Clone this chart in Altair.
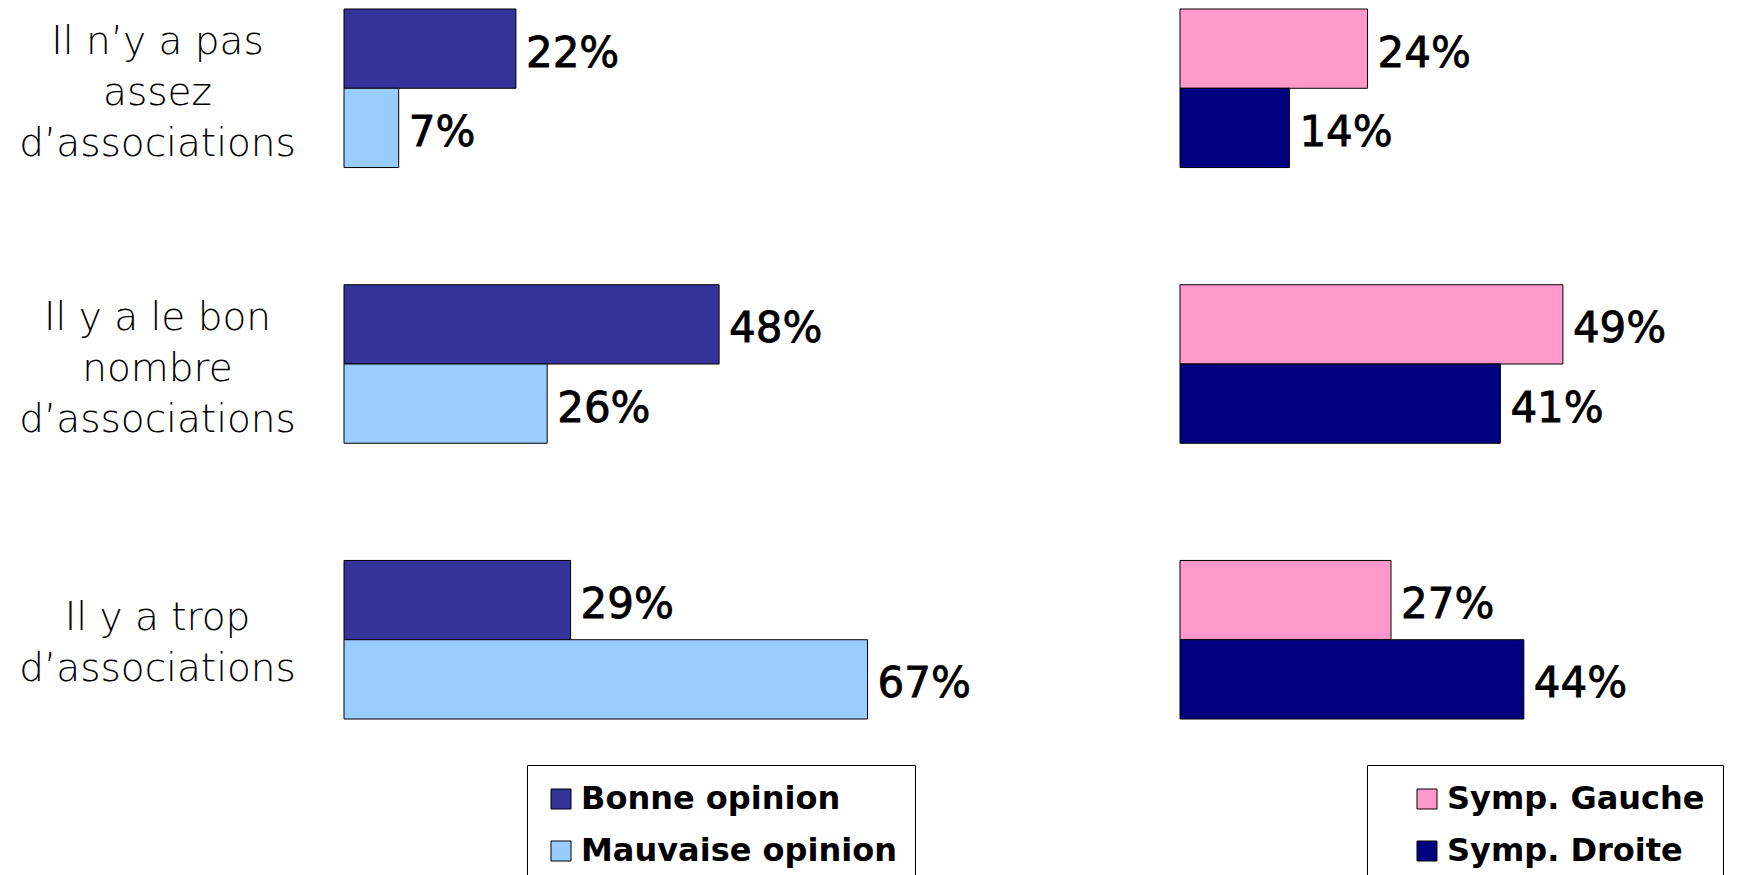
import altair as alt
import pandas as pd

categories = [
    "Il n’y a pas|assez|d’associations",
    "Il y a le bon|nombre|d’associations",
    "Il y a trop|d’associations",
]
series_left = ["Bonne opinion", "Mauvaise opinion"]
values_bonne = [22, 48, 29]
values_mauvaise = [7, 26, 67]
colors_left = ["#333399", "#99CCFF"]

series_right = ["Symp. Gauche", "Symp. Droite"]
values_gauche = [24, 49, 27]
values_droite = [14, 41, 44]
colors_right = ["#FF99CC", "#000080"]


def make_df(series, vals_a, vals_b):
    rows = []
    for s, vals in zip(series, [vals_a, vals_b]):
        for c, v in zip(categories, vals):
            rows.append({"cat": c, "series": s, "value": v, "label": f"{v}%"})
    return pd.DataFrame(rows)


df_left = make_df(series_left, values_bonne, values_mauvaise)
df_right = make_df(series_right, values_gauche, values_droite)

FONT = "DejaVu Sans"


def panel(df, series, colors, show_axis, legend_x, symbol_offset):
    if show_axis:
        yaxis = alt.Axis(
            title=None,
            domain=False,
            ticks=False,
            tickSize=0,
            labelExpr="split(datum.label, '|')",
            labelAlign="center",
            labelBaseline="middle",
            labelLineHeight=51,
            labelPadding=187,
            labelOffset={
                "condition": {"test": "indexof(datum.label, 'trop') >= 0", "value": -21.5},
                "value": -46.5,
            },
            labelFont=FONT,
            labelFontSize=39,
            labelFontWeight=300,
            labelColor="black",
            labelLimit=1000,
        )
    else:
        yaxis = None
    y = alt.Y(
        "cat:N",
        sort=categories,
        scale=alt.Scale(domain=categories, paddingInner=0.425, paddingOuter=0),
        axis=yaxis,
    )
    yoff = alt.YOffset(
        "series:N",
        sort=series,
        scale=alt.Scale(domain=series, paddingInner=0, paddingOuter=0),
    )
    x = alt.X("value:Q", scale=alt.Scale(domain=[0, 70]), axis=None)
    color = alt.Color(
        "series:N",
        scale=alt.Scale(domain=series, range=colors),
        title=None,
        legend=alt.Legend(
            orient="none",
            legendX=legend_x,
            legendY=756,
            strokeColor="black",
            fillColor="white",
            padding=18,
            symbolType="square",
            symbolSize=400,
            symbolStrokeColor="black",
            symbolStrokeWidth=1,
            symbolOffset=symbol_offset,
            labelFont=FONT,
            labelFontSize=32,
            labelFontWeight="bold",
            labelColor="black",
            labelOffset=4,
            rowPadding=20,
            labelLimit=1000,
        ),
    )
    bars = alt.Chart(df).mark_bar(stroke="black", strokeWidth=1).encode(
        x=x, y=y, yOffset=yoff, color=color
    )
    text = alt.Chart(df).mark_text(
        align="left",
        baseline="middle",
        dx=10,
        dy=5,
        font=FONT,
        fontSize=42,
        color="black",
        stroke="black",
        strokeWidth=0.8,
    ).encode(x=x, y=y, yOffset=yoff, text="label:N")
    return alt.layer(bars, text).properties(width=547, height=710)


left = panel(df_left, series_left, colors_left, True, 183, 0)
right = panel(df_right, series_right, colors_right, False, 187, 26)

chart = (
    alt.hconcat(left, right, spacing=289, bounds="flush")
    .resolve_scale(color="independent", yOffset="independent")
    .configure_view(strokeWidth=0)
    .properties(padding={"left": 10, "top": 0, "right": 0, "bottom": 0})
)

chart.save("out.html", embed_options={"renderer": "svg", "actions": False})
